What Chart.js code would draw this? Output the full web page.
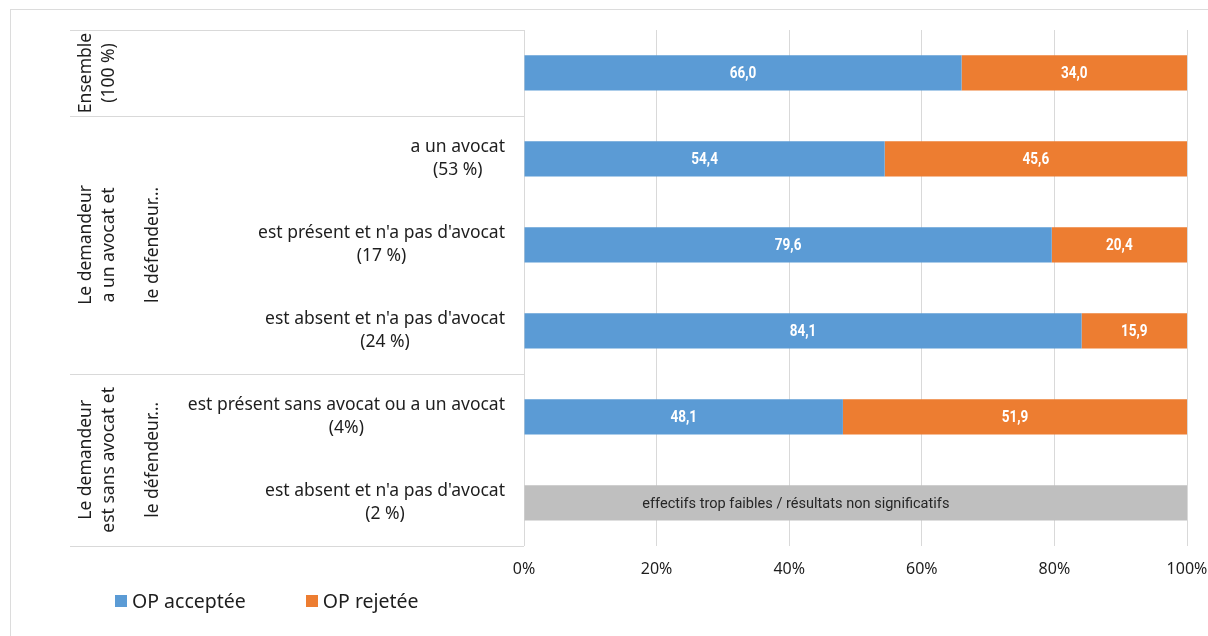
<!DOCTYPE html>
<html lang="fr">
<head>
<meta charset="utf-8">
<script src="https://cdn.jsdelivr.net/npm/chart.js@4.4.1/dist/chart.umd.min.js"></script>
<style>
  html, body { margin: 0; padding: 0; background: #fff; overflow: hidden; }
  #frame { position: absolute; left: 10px; top: 9px; width: 1300px; height: 700px; border: 1px solid #dcdcdc; }
  #wrap { position: absolute; left: 0; top: 0; width: 1208px; height: 636px; }
  #legend { position: absolute; left: 115px; top: 587px; display: flex; font: 19.5px 'Noto Sans', sans-serif; color: #1e1e1e; }
  #legend .item { display: flex; align-items: center; margin-right: 60px; }
  #legend .box { width: 12px; height: 12px; margin-right: 5px; }
</style>
</head>
<body>
<div id="frame"></div>
<div id="wrap"><canvas id="myChart" width="1208" height="636"></canvas></div>
<div id="legend"></div>
<script>
const ctx = document.getElementById('myChart');
const legendBox = document.getElementById('legend');

// sous-catégories (une barre par ligne)
const categories = [
  ['', ''],
  ['a un avocat', '(53 %)'],
  ["est présent et n'a pas d'avocat", '(17 %)'],
  ["est absent et n'a pas d'avocat", '(24 %)'],
  ['est présent sans avocat ou a un avocat', '(4%)'],
  ["est absent et n'a pas d'avocat", '(2 %)']
];
const accepted = [66.0, 54.4, 79.6, 84.1, 48.1, null];
const rejected = [34.0, 45.6, 20.4, 15.9, 51.9, null];
const notSignificant = [null, null, null, null, null, 100];
const notSignificantText = 'effectifs trop faibles / résultats non significatifs';
const xTicks = [0, 20, 40, 60, 80, 100];

// regroupements à gauche (texte vertical)
const groups = [
  { from: 0, to: 0, lines: ['Ensemble', '(100 %)'], extra: null },
  { from: 1, to: 3, lines: ['Le demandeur', 'a un avocat et'], extra: 'le défendeur…' },
  { from: 4, to: 5, lines: ['Le demandeur', 'est sans avocat et'], extra: 'le défendeur…' }
];

const textColor = '#1e1e1e';
const lineColor = '#d9d9d9';
const labelFont = "17.5px 'Noto Sans', sans-serif";

const fmt = v => v.toFixed(1).replace('.', ',');

// texte étroit : police normale compressée horizontalement
function narrowText(c, text, x, y, sx) {
  c.save();
  c.translate(x, y);
  c.scale(sx, 1);
  c.fillText(text, 0, 0);
  c.restore();
}

const sideLabels = {
  id: 'sideLabels',
  afterDraw(chart) {
    const c = chart.ctx;
    const y = chart.scales.y;
    const area = chart.chartArea;
    const rowMid = i => y.getPixelForValue(i);
    const edge = i => i < 0 ? area.top : i >= categories.length - 1 ? area.bottom : (rowMid(i) + rowMid(i + 1)) / 2;

    c.save();
    // séparateurs de groupes
    c.strokeStyle = lineColor;
    c.lineWidth = 1;
    const seps = [area.top];
    groups.forEach(g => seps.push(edge(g.to)));
    seps.forEach(py => {
      c.beginPath();
      c.moveTo(70, Math.round(py) + 0.5);
      c.lineTo(area.left, Math.round(py) + 0.5);
      c.stroke();
    });

    // libellés des lignes
    c.font = labelFont;
    c.fillStyle = textColor;
    c.textBaseline = 'middle';
    c.textAlign = 'center';
    categories.forEach((lines, i) => {
      const w = Math.max(...lines.map(t => c.measureText(t).width));
      const cx = 505 - w / 2;
      const cy = rowMid(i);
      c.fillText(lines[0], cx, cy - 11.5);
      c.fillText(lines[1], cx, cy + 11.5);
    });

    // libellés de groupe, tournés
    groups.forEach(g => {
      const top = edge(g.from - 1);
      const bottom = edge(g.to);
      const cy = (top + bottom) / 2;
      c.save();
      c.translate(0, cy);
      c.rotate(-Math.PI / 2);
      c.fillText(g.lines[0], 0, 86);
      c.fillText(g.lines[1], 0, 109);
      if (g.extra) c.fillText(g.extra, 0, 153);
      c.restore();
    });
    c.restore();
  }
};

const barValues = {
  id: 'barValues',
  afterDatasetsDraw(chart) {
    const c = chart.ctx;
    c.save();
    c.textAlign = 'center';
    c.textBaseline = 'middle';
    chart.data.datasets.forEach((ds, di) => {
      chart.getDatasetMeta(di).data.forEach((bar, i) => {
        const v = ds.data[i];
        if (v === null) return;
        const p = bar.getCenterPoint();
        if (di === 2) {
          c.font = "15px Roboto, sans-serif";
          c.fillStyle = '#262626';
          narrowText(c, notSignificantText, chart.scales.x.getPixelForValue(41), p.y + 1, 0.97);
        } else {
          c.font = "bold 16.5px Roboto, sans-serif";
          c.fillStyle = '#ffffff';
          narrowText(c, fmt(v), p.x, p.y + 1, 0.82);
        }
      });
    });
    c.restore();
  }
};

const chart = new Chart(ctx, {
  type: 'bar',
  data: {
    labels: categories.map(l => l.join(' ')),
    datasets: [
      { label: 'OP acceptée', data: accepted, backgroundColor: '#5b9bd5' },
      { label: 'OP rejetée', data: rejected, backgroundColor: '#ed7d31' },
      { label: 'n.s.', data: notSignificant, backgroundColor: '#bfbfbf' }
    ]
  },
  options: {
    indexAxis: 'y',
    responsive: false,
    animation: false,
    events: [],
    datasets: { bar: { barPercentage: 0.41, categoryPercentage: 1, borderWidth: 0 } },
    layout: { padding: { left: 0, top: 30, right: 21, bottom: 43 } },
    plugins: { legend: { display: false }, tooltip: { enabled: false } },
    scales: {
      x: {
        stacked: true,
        min: 0,
        max: 100,
        afterBuildTicks: s => { s.ticks = xTicks.map(v => ({ value: v })); },
        afterFit: s => { s.paddingLeft = 0; s.paddingRight = 0; },
        grid: { color: lineColor, drawTicks: false },
        border: { display: false },
        ticks: {
          padding: 14,
          color: textColor,
          font: { family: "'Noto Sans', sans-serif", size: 16 },
          callback: v => v + '%'
        }
      },
      y: {
        stacked: true,
        grid: { display: false },
        border: { color: lineColor },
        ticks: { display: false },
        afterFit: s => { s.width = 524; }
      }
    }
  },
  plugins: [sideLabels, barValues]
});

// légende
chart.data.datasets.slice(0, 2).forEach(ds => {
  const item = document.createElement('div');
  item.className = 'item';
  item.innerHTML = `<span class="box" style="background:${ds.backgroundColor}"></span><span>${ds.label}</span>`;
  legendBox.appendChild(item);
});
</script>
</body>
</html>
